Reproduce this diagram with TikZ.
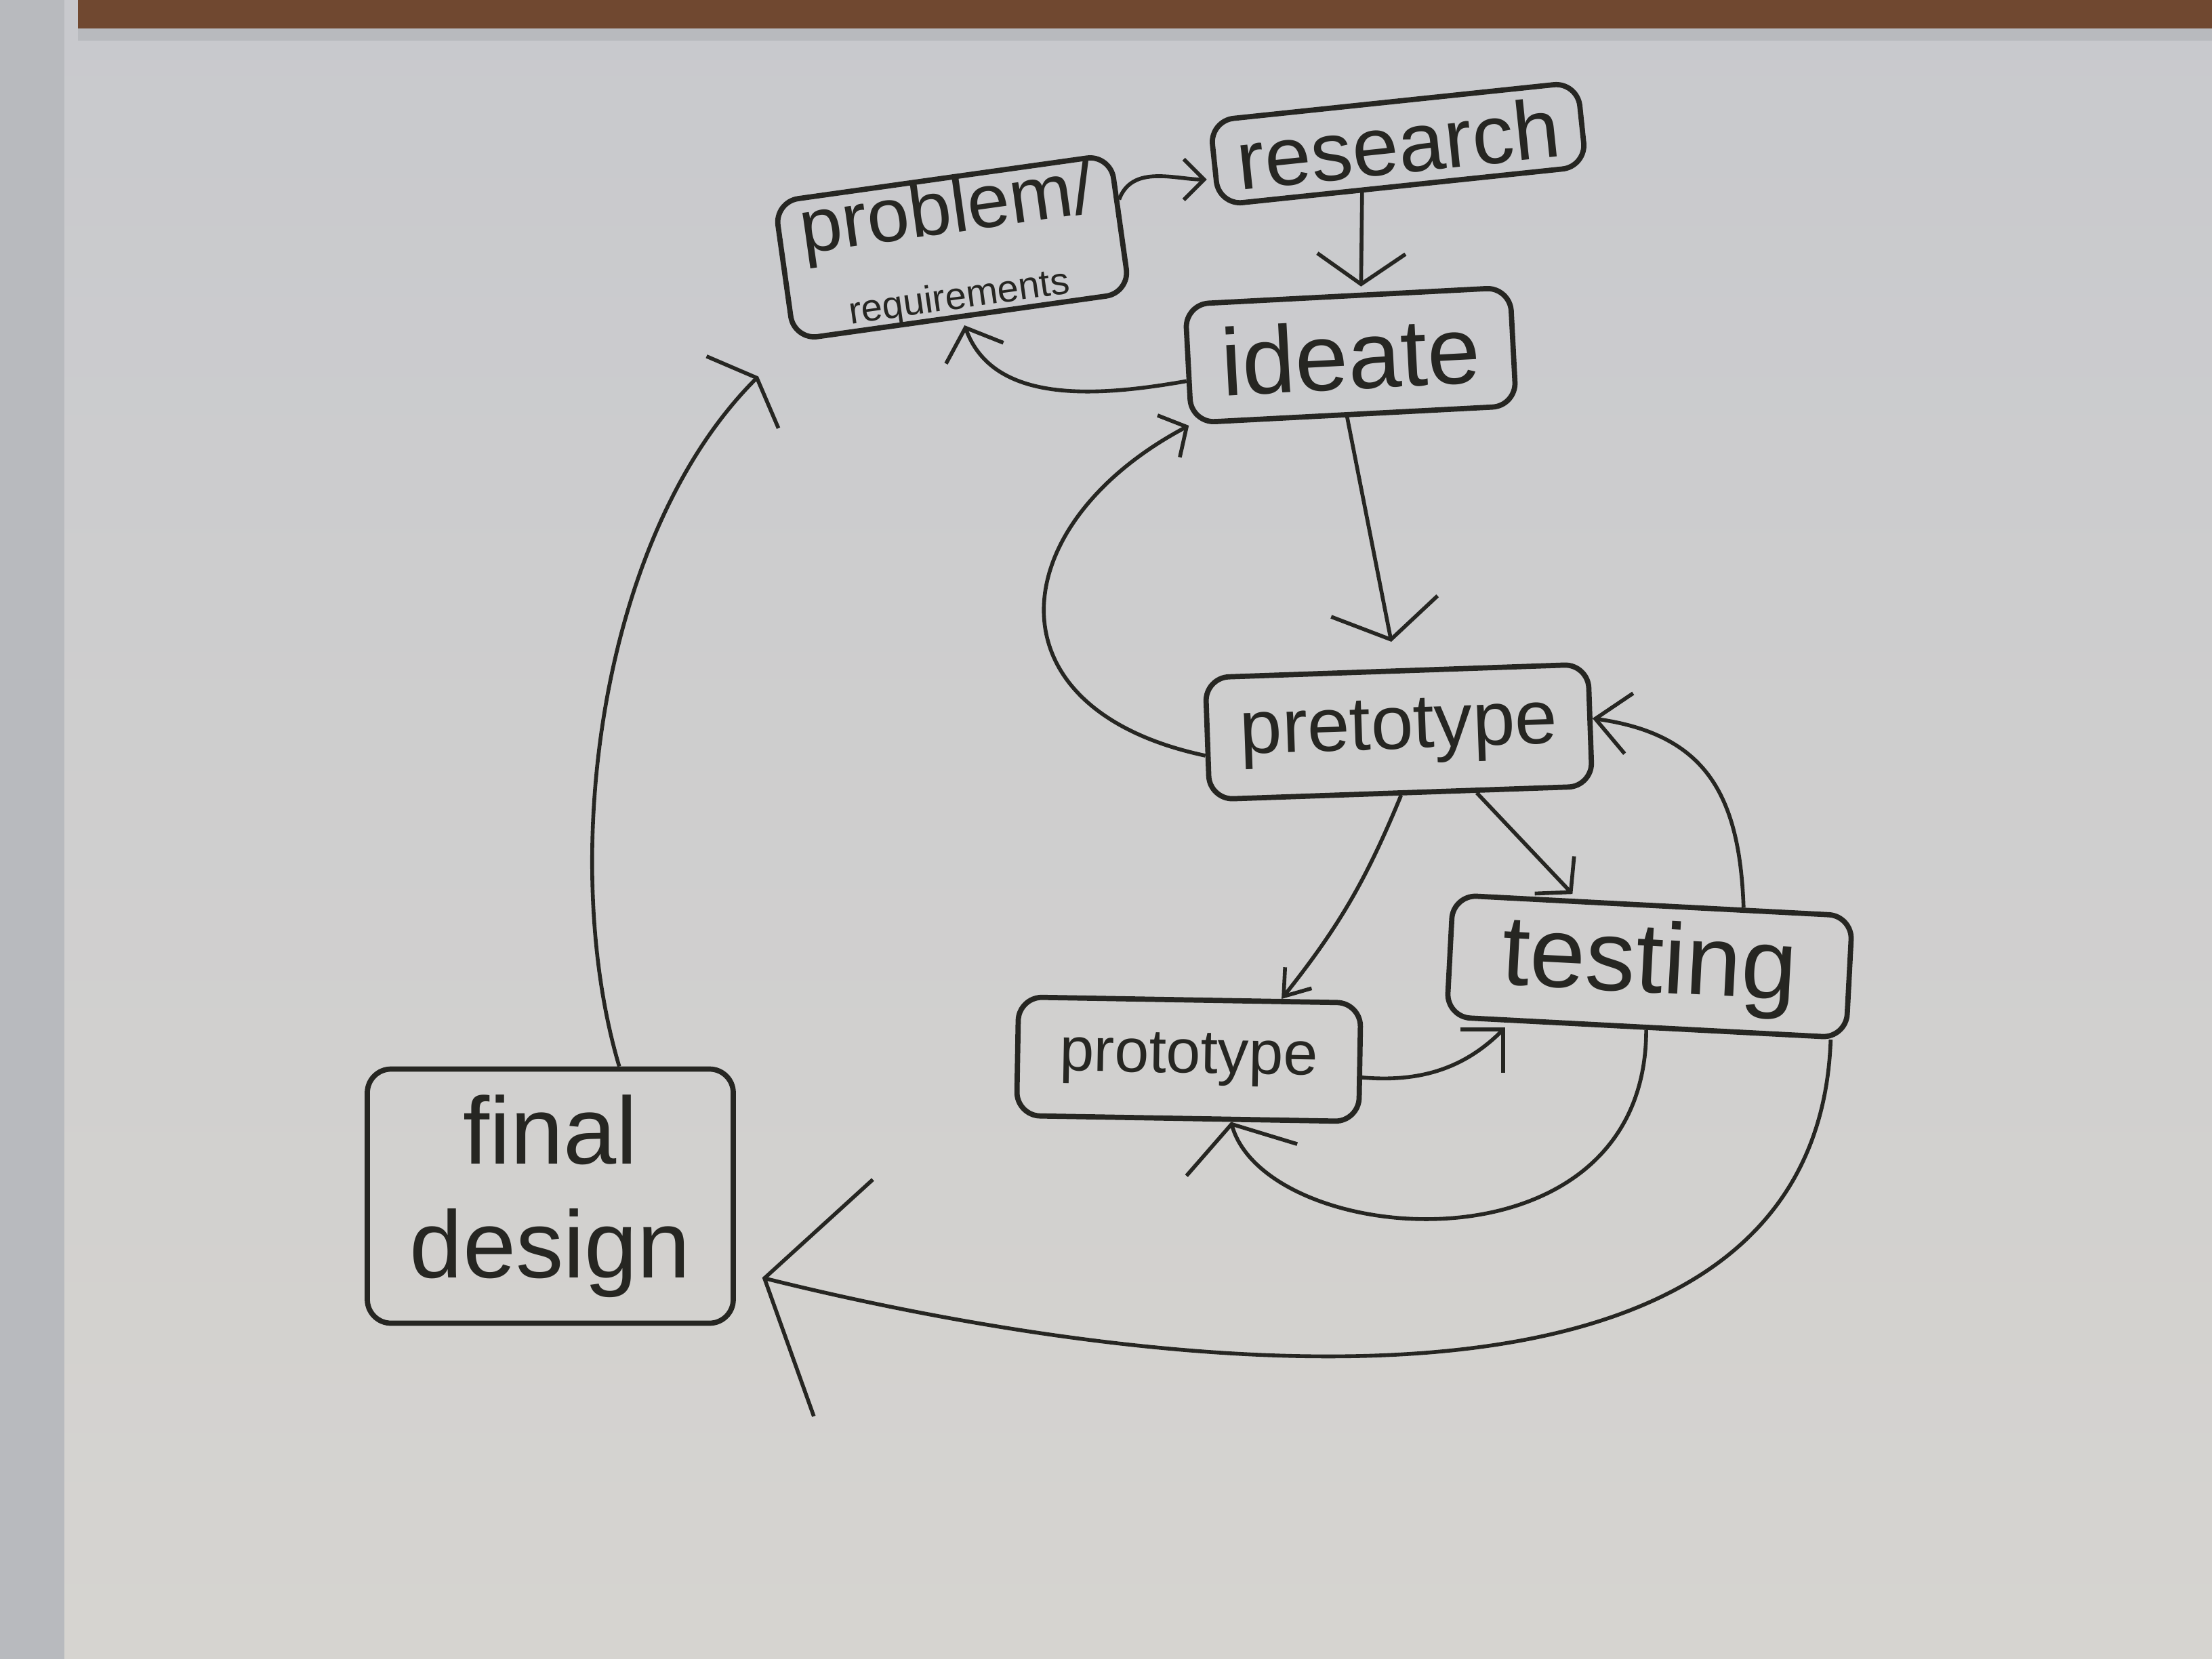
\documentclass[tikz,border=0pt]{standalone}
\usepackage{fontspec}
\setmainfont{Liberation Sans}
\usetikzlibrary{arrows.meta}
\definecolor{marker}{RGB}{38,38,34}
\definecolor{board}{RGB}{200,201,205}
\definecolor{boardlow}{RGB}{214,212,208}
\definecolor{rail}{RGB}{112,72,48}
\definecolor{frame}{RGB}{184,186,190}
\tikzset{
  card/.style={draw=marker, line width=2.2pt, rounded corners=0.35cm, inner sep=0pt, align=center, text=marker},
  pen/.style={draw=marker, line width=1.6pt},
}
\begin{document}
\begin{tikzpicture}
        % board
        \shade[top color=board, bottom color=boardlow] (0,0) rectangle (32.64,-24.48);
        \fill[frame] (0,0) rectangle (0.95,-24.48);
        \fill[rail] (1.15,0) rectangle (32.64,-0.42);
        \fill[frame] (1.15,-0.42) rectangle (32.64,-0.6);
        \useasboundingbox (0,0) rectangle (32.64,-24.48);
        % nodes
        \node[card, minimum width=5.45cm, minimum height=1.25cm, rotate=6, font=\fontsize{35}{40}\selectfont] (research) at (20.63,-2.12) {research};
        \node[card, minimum width=5cm, minimum height=1.85cm, rotate=8, font=\fontsize{32}{34}\selectfont] (problem) at (14.05,-3.65) {problem/\\[-2pt]{\fontsize{16}{18}\selectfont requirements}};
        \node[card, minimum width=4.8cm, minimum height=1.75cm, rotate=3, font=\fontsize{40}{44}\selectfont] (ideate) at (19.93,-5.24) {ideate};
        \node[card, minimum width=5.65cm, minimum height=1.8cm, rotate=2, font=\fontsize{32}{36}\selectfont] (pretotype) at (20.64,-10.8) {pretotype};
        \node[card, minimum width=5.9cm, minimum height=1.8cm, rotate=-3, font=\fontsize{42}{46}\selectfont] (testing) at (24.34,-14.26) {testing};
        \node[card, minimum width=5.05cm, minimum height=1.75cm, rotate=-1, font=\fontsize{26}{30}\selectfont] (prototype) at (17.54,-15.63) {prototype};
        \node[card, minimum width=5.4cm, minimum height=3.75cm, font=\fontsize{40}{48}\selectfont] (final) at (8.12,-17.65) {final\\design};
        % edges
        \draw[pen, ->, >={Straight Barb[length=3mm,width=6mm]}, shorten >=1mm] (problem.8) to[out=70,in=180] (research.185);
        \draw[pen, ->, >={Straight Barb[length=4.5mm,width=13mm]}, shorten >=1mm] ([xshift=-6mm]research.south) -- ([xshift=2mm]ideate.north);
        \draw[pen, ->, >={Straight Barb[length=4mm,width=9mm]}, shorten >=1mm] (ideate.186) to[out=190,in=-70] (problem.south);
        \draw[pen, ->, >={Straight Barb[length=5mm,width=16mm]}, shorten >=4mm] ([xshift=-1mm]ideate.south) -- (pretotype.north);
        \draw[pen, ->, >={Straight Barb[length=3mm,width=7mm]}] (pretotype.185) .. controls +(168:3.35) and +(208:3.1) .. (ideate.south west);
        \draw[pen, ->, >={Straight Barb[length=3.5mm,width=8mm]}, shorten >=1mm] (pretotype.-40) -- (testing.140);
        \draw[pen, ->, >={Straight Barb[length=5mm,width=9mm]}] (testing.35) to[out=92,in=-8,looseness=1.2] (pretotype.2);
        \draw[pen, ->, >={Straight Barb[length=3.5mm,width=5mm]}] (pretotype.south) to[bend left=8] (prototype.34);
        \draw[pen, ->, >={Straight Barb[length=4.5mm,width=9mm]}, shorten >=1mm] (prototype.-5) to[out=-5,in=-135] (testing.205);
        \draw[pen, ->, >={Straight Barb[length=5.5mm,width=17mm]}] (testing.south) .. controls +(-90:3.7) and +(-74:1.95) .. (prototype.-55);
        \draw[pen, ->, >={Straight Barb[length=12mm,width=36mm]}, shorten >=4mm] (testing.-19) .. controls +(-92:6.5) and +(-14:5.27) .. (final.-22);
        \draw[pen, ->, >={Straight Barb[length=3mm,width=15mm]}, shorten >=7mm] (final.62) .. controls +(106.6:3.15) and +(225:4.03) .. (problem.south west);
\end{tikzpicture}
\end{document}
